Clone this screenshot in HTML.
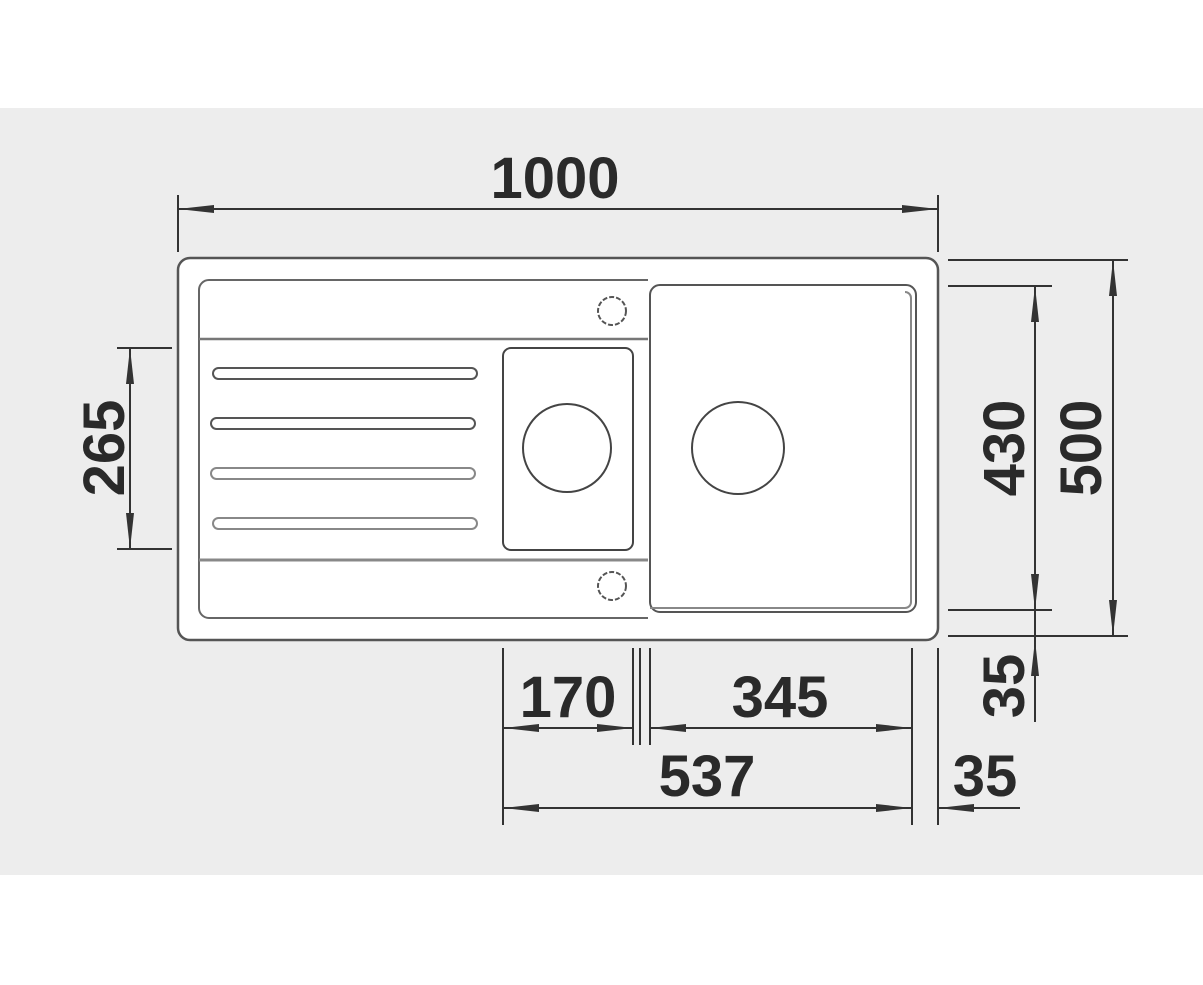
<!DOCTYPE html>
<html><head><meta charset="utf-8"><style>
html,body{margin:0;padding:0;background:#fff;}
svg{display:block;}
text{font-family:"Liberation Sans",Arial,sans-serif;font-weight:bold;font-size:58px;fill:#2a2a2a;}
</style></head><body>
<svg width="1203" height="985" viewBox="0 0 1203 985" xmlns="http://www.w3.org/2000/svg">
<defs>
<marker id="a" viewBox="0 0 10 10" refX="10" refY="5" markerWidth="36" markerHeight="8" markerUnits="userSpaceOnUse" preserveAspectRatio="none" orient="auto-start-reverse"><path d="M0,0 L10,5 L0,10 z" fill="#333"/></marker>
</defs>
<rect x="0" y="108" width="1203" height="767" fill="#ededed"/>
<g stroke="#333" stroke-width="2" fill="none">
<rect x="178" y="258" width="760" height="382" rx="12" fill="#fff" stroke="#555" stroke-width="2.5"/>
<path d="M648,280 H209 a10,10 0 0 0 -10,10 V608 a10,10 0 0 0 10,10 H648" stroke="#666"/>
<line x1="199" y1="339" x2="648" y2="339" stroke="#777" stroke-width="2.5"/>
<line x1="199" y1="560" x2="648" y2="560" stroke="#888" stroke-width="3"/>
<circle cx="612" cy="311" r="14" stroke="#555" stroke-dasharray="5 2"/>
<circle cx="612" cy="586" r="14" stroke="#555" stroke-dasharray="5 2"/>
<rect x="213" y="368" width="264" height="11" rx="5.5" stroke="#555"/>
<rect x="211" y="418" width="264" height="11" rx="5.5" stroke="#555"/>
<rect x="211" y="468" width="264" height="11" rx="5.5" stroke="#888"/>
<rect x="213" y="518" width="264" height="11" rx="5.5" stroke="#888"/>
<rect x="503" y="348" width="130" height="202" rx="8" stroke="#444"/>
<circle cx="567" cy="448" r="44" stroke="#444"/>
<rect x="650" y="285" width="266" height="327" rx="10" stroke="#555"/>
<path d="M650,608 H905 a6,6 0 0 0 6,-6 V298 a6,6 0 0 0 -6,-6" stroke="#888"/>
<circle cx="738" cy="448" r="46" stroke="#444"/>
</g>
<g stroke="#333" stroke-width="2" fill="none">
<line x1="178" y1="195" x2="178" y2="252"/>
<line x1="938" y1="195" x2="938" y2="252"/>
<line x1="178" y1="209" x2="938" y2="209" marker-start="url(#a)" marker-end="url(#a)"/>
<line x1="117" y1="348" x2="172" y2="348"/>
<line x1="117" y1="549" x2="172" y2="549"/>
<line x1="130" y1="348" x2="130" y2="549" marker-start="url(#a)" marker-end="url(#a)"/>
<line x1="948" y1="286" x2="1052" y2="286"/>
<line x1="948" y1="610" x2="1052" y2="610"/>
<line x1="1035" y1="286" x2="1035" y2="610" marker-start="url(#a)" marker-end="url(#a)"/>
<line x1="1035" y1="610" x2="1035" y2="722"/>
<line x1="1035" y1="690" x2="1035" y2="640" marker-end="url(#a)"/>
<line x1="948" y1="260" x2="1128" y2="260"/>
<line x1="948" y1="636" x2="1128" y2="636"/>
<line x1="1113" y1="260" x2="1113" y2="636" marker-start="url(#a)" marker-end="url(#a)"/>
<line x1="503" y1="648" x2="503" y2="825"/>
<line x1="633" y1="648" x2="633" y2="745"/>
<line x1="640" y1="648" x2="640" y2="745"/>
<line x1="650" y1="648" x2="650" y2="745"/>
<line x1="912" y1="648" x2="912" y2="825"/>
<line x1="938" y1="648" x2="938" y2="825"/>
<line x1="503" y1="728" x2="633" y2="728" marker-start="url(#a)" marker-end="url(#a)"/>
<line x1="650" y1="728" x2="912" y2="728" marker-start="url(#a)" marker-end="url(#a)"/>
<line x1="503" y1="808" x2="912" y2="808" marker-start="url(#a)" marker-end="url(#a)"/>
<line x1="1020" y1="808" x2="938" y2="808" marker-end="url(#a)"/>
</g>
<text x="555" y="198" text-anchor="middle">1000</text>
<text x="568" y="717" text-anchor="middle">170</text>
<text x="780" y="717" text-anchor="middle">345</text>
<text x="707" y="796" text-anchor="middle">537</text>
<text x="985" y="796" text-anchor="middle">35</text>
<text transform="translate(124,448) rotate(-90)" text-anchor="middle">265</text>
<text transform="translate(1024,448) rotate(-90)" text-anchor="middle">430</text>
<text transform="translate(1101,448) rotate(-90)" text-anchor="middle">500</text>
<text transform="translate(1024,686) rotate(-90)" text-anchor="middle">35</text>
</svg>
</body></html>
